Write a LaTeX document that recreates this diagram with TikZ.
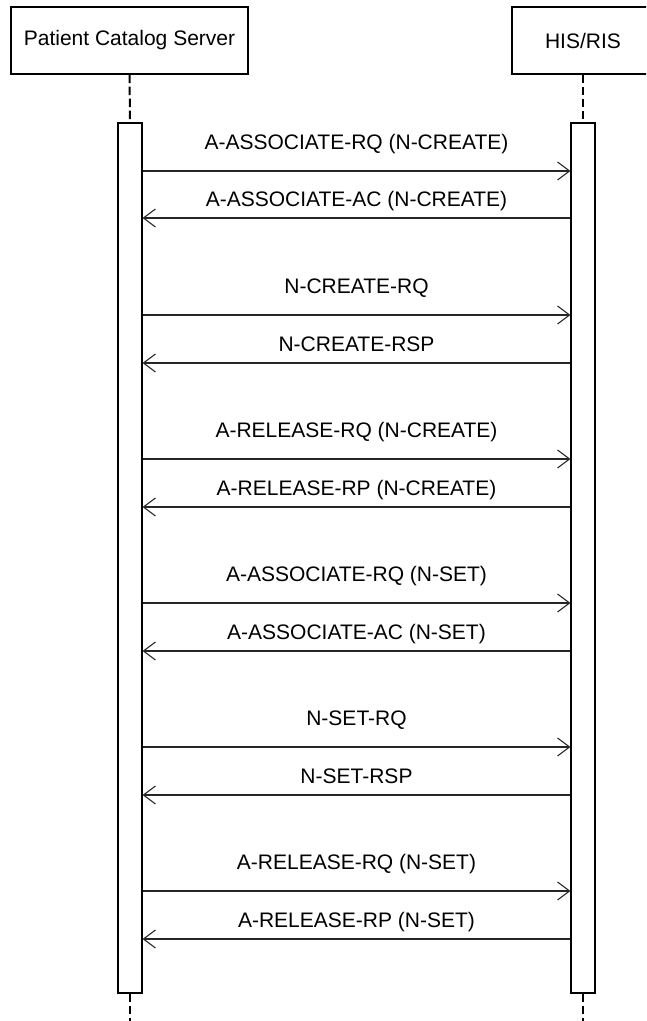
\documentclass[tikz,border=0pt]{standalone}
\usepackage{fontspec}
\setmainfont{Liberation Sans}
\usetikzlibrary{arrows.meta}

\begin{document}
\begin{tikzpicture}[x=1pt,y=-1pt,line cap=butt]
	\tikzstyle{actor}=[draw,line width=1.1pt,inner sep=0pt,minimum height=67,font=\fontsize{21}{25}\selectfont];
	\tikzstyle{bar}=[draw,fill=white,line width=1.1pt,inner sep=0pt,minimum width=24,minimum height=870];
	\tikzstyle{life}=[line width=2pt,dash pattern=on 8.5pt off 3.5pt];
	\tikzstyle{msg}=[anchor=base,inner sep=0pt,font=\fontsize{21}{25}\selectfont];
	\tikzstyle{call}=[line width=1.1pt,black!85,-{Straight Barb[length=12pt,width=18pt,line width=1.1pt]}];

	\clip (0,0) rectangle (646,1021);

	\node[actor,minimum width=237] (pcs) at (129.5,40.5) {Patient Catalog Server};
	\node[actor,minimum width=142] (his) at (583,40.5)   {HIS/RIS};
	\node[bar] (pcsbar) at (130,558) {};
	\node[bar] (hisbar) at (583,558) {};
	\coordinate (pcsend) at (130,1021);
	\coordinate (hisend) at (583,1021);

	\draw[life] (pcs.south)    -- (pcsbar.north);
	\draw[life] (his.south)    -- (hisbar.north);
	\draw[life] (pcsbar.south) -- (pcsend);
	\draw[life] (hisbar.south) -- (hisend);

	\coordinate (m1)  at (0,171);
	\coordinate (m2)  at (0,218);
	\coordinate (m3)  at (0,315);
	\coordinate (m4)  at (0,363);
	\coordinate (m5)  at (0,459);
	\coordinate (m6)  at (0,507);
	\coordinate (m7)  at (0,603);
	\coordinate (m8)  at (0,651);
	\coordinate (m9)  at (0,747);
	\coordinate (m10) at (0,795);
	\coordinate (m11) at (0,891);
	\coordinate (m12) at (0,939);

	\draw[call] (pcsbar.east |- m1)  -- (hisbar.west |- m1);
	\draw[call] (hisbar.west |- m2)  -- (pcsbar.east |- m2);
	\draw[call] (pcsbar.east |- m3)  -- (hisbar.west |- m3);
	\draw[call] (hisbar.west |- m4)  -- (pcsbar.east |- m4);
	\draw[call] (pcsbar.east |- m5)  -- (hisbar.west |- m5);
	\draw[call] (hisbar.west |- m6)  -- (pcsbar.east |- m6);
	\draw[call] (pcsbar.east |- m7)  -- (hisbar.west |- m7);
	\draw[call] (hisbar.west |- m8)  -- (pcsbar.east |- m8);
	\draw[call] (pcsbar.east |- m9)  -- (hisbar.west |- m9);
	\draw[call] (hisbar.west |- m10) -- (pcsbar.east |- m10);
	\draw[call] (pcsbar.east |- m11) -- (hisbar.west |- m11);
	\draw[call] (hisbar.west |- m12) -- (pcsbar.east |- m12);

	\node[msg] (t1)  at (356.5,149) {A-ASSOCIATE-RQ (N-CREATE)};
	\node[msg] (t2)  at (356.5,206) {A-ASSOCIATE-AC (N-CREATE)};
	\node[msg] (t3)  at (356.5,293) {N-CREATE-RQ};
	\node[msg] (t4)  at (356.5,351) {N-CREATE-RSP};
	\node[msg] (t5)  at (356.5,437) {A-RELEASE-RQ (N-CREATE)};
	\node[msg] (t6)  at (356.5,495) {A-RELEASE-RP (N-CREATE)};
	\node[msg] (t7)  at (356.5,581) {A-ASSOCIATE-RQ (N-SET)};
	\node[msg] (t8)  at (356.5,639) {A-ASSOCIATE-AC (N-SET)};
	\node[msg] (t9)  at (356.5,725) {N-SET-RQ};
	\node[msg] (t10) at (356.5,783) {N-SET-RSP};
	\node[msg] (t11) at (356.5,869) {A-RELEASE-RQ (N-SET)};
	\node[msg] (t12) at (356.5,927) {A-RELEASE-RP (N-SET)};
\end{tikzpicture}
\end{document}
